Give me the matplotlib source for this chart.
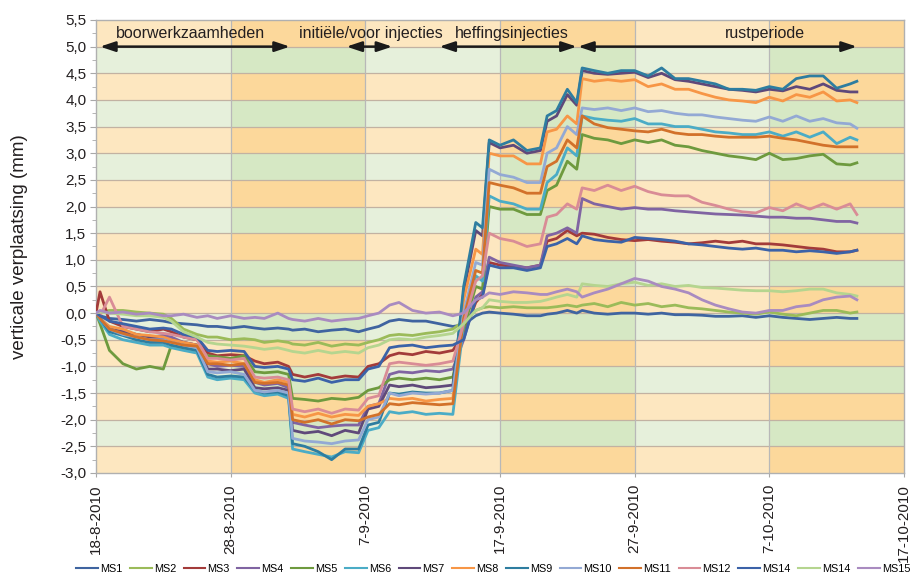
import pandas as pd
import matplotlib
matplotlib.use('Agg')
import matplotlib.pyplot as plt
import matplotlib.dates as mdates
from matplotlib.patches import Rectangle
from matplotlib.ticker import MultipleLocator

plt.rcParams['font.family'] = ['Liberation Sans Narrow', 'Liberation Sans',
                               'DejaVu Sans']

start = pd.Timestamp('2010-08-18')

# meetmomenten, dagen na 18-8-2010
days = [0, 0.3, 1, 2, 3, 4, 5, 5.6,
        6.5, 7.5, 8.3, 9, 10, 11,
        11.8, 12.5, 13.5, 14.3,
        14.6, 15.5, 16.5, 17.5, 18.5, 19.5,
        20.2, 21, 21.8, 22.5, 23.5, 24.5, 25.5, 26.5,
        27.3, 28.2, 28.7, 29.2,
        30, 31, 32, 33,
        33.5, 34.2, 35, 35.7,
        36.1, 37, 38, 39, 40, 41, 42, 43, 44, 45, 46,
        47, 48, 49, 50, 51, 52, 53, 54, 55, 56, 56.5]

ms1 = [0.0, -0.05, -0.1, -0.12, -0.15, -0.12, -0.15, -0.18,
       -0.2, -0.22, -0.25, -0.25, -0.28, -0.25,
       -0.28, -0.3, -0.28, -0.3,
       -0.32, -0.3, -0.35, -0.32, -0.3, -0.35,
       -0.3, -0.25, -0.15, -0.12, -0.15, -0.15, -0.2, -0.25,
       -0.22, -0.05, 0.0, 0.02,
       0.0, -0.02, -0.05, -0.05,
       -0.02, 0.0, 0.05, 0.0,
       0.05, 0.0, -0.02, 0.0, 0.0, -0.02, 0.0, -0.03, -0.03, -0.04, -0.06,
       -0.06, -0.05, -0.08, -0.05, -0.08, -0.1, -0.12, -0.1, -0.08, -0.1, -0.1]
ms2 = [0.0, 0.02, 0.05, 0.05, 0.02, 0.0, -0.02, -0.1,
       -0.3, -0.4, -0.45, -0.45, -0.5, -0.48,
       -0.5, -0.55, -0.52, -0.55,
       -0.58, -0.6, -0.55, -0.62, -0.58, -0.6,
       -0.55, -0.5, -0.42, -0.4, -0.42, -0.38, -0.35, -0.3,
       -0.15, 0.05, 0.1, 0.12,
       0.1, 0.12, 0.1, 0.1,
       0.1, 0.12, 0.15, 0.12,
       0.15, 0.18, 0.12, 0.2, 0.15, 0.18, 0.12, 0.15, 0.1, 0.08, 0.05,
       0.02, 0.0, -0.02, 0.02, -0.02, -0.05, 0.0, 0.05, 0.05, 0.0, 0.02]
ms3 = [0.0, 0.4, -0.15, -0.25, -0.3, -0.35, -0.3, -0.35,
       -0.45, -0.5, -0.75, -0.8, -0.78, -0.8,
       -0.9, -0.95, -0.92, -1.0,
       -1.15, -1.2, -1.15, -1.22, -1.18, -1.2,
       -1.0, -0.95, -0.8, -0.75, -0.78, -0.72, -0.75, -0.7,
       -0.4, 0.2, 0.35, 0.95,
       0.9, 0.88, 0.85, 0.9,
       1.35, 1.4, 1.55, 1.45,
       1.5, 1.48, 1.42, 1.38, 1.36, 1.38, 1.35, 1.33, 1.3, 1.32, 1.35,
       1.32, 1.35, 1.3, 1.3, 1.28, 1.25, 1.22, 1.2, 1.15, 1.15, 1.18]
ms4 = [0.0, -0.1, -0.3, -0.35, -0.4, -0.45, -0.42, -0.45,
       -0.55, -0.6, -0.95, -1.0, -0.98, -1.0,
       -1.3, -1.35, -1.32, -1.4,
       -2.05, -2.1, -2.15, -2.12, -2.1, -2.1,
       -1.75, -1.7, -1.15, -1.1, -1.12, -1.08, -1.1, -1.05,
       -0.5, 0.3, 0.4, 1.05,
       0.95, 0.9, 0.85, 0.9,
       1.45, 1.5, 1.6, 1.5,
       2.15, 2.05, 2.0, 1.95, 1.98, 1.95, 1.95, 1.92, 1.9, 1.88, 1.86,
       1.85, 1.84, 1.82, 1.8, 1.8, 1.78, 1.78, 1.75, 1.72, 1.72, 1.69]
ms5 = [0.0, -0.2, -0.7, -0.95, -1.05, -1.0, -1.05, -0.6,
       -0.65, -0.7, -0.8, -0.82, -0.85, -0.8,
       -1.1, -1.12, -1.1, -1.15,
       -1.6, -1.62, -1.65, -1.6, -1.62, -1.58,
       -1.45, -1.4, -1.25, -1.22, -1.25, -1.22, -1.25, -1.2,
       -0.3, 0.5, 0.45, 2.0,
       1.95, 1.95, 1.85, 1.85,
       2.3, 2.4, 2.85, 2.7,
       3.35, 3.28, 3.25, 3.18, 3.25, 3.2, 3.25, 3.15, 3.12, 3.05, 3.0,
       2.95, 2.92, 2.88, 3.0, 2.88, 2.9, 2.95, 2.98, 2.8, 2.78, 2.82]
ms6 = [0.0, -0.15, -0.4, -0.5, -0.55, -0.6, -0.6, -0.65,
       -0.7, -0.75, -1.2, -1.25, -1.22, -1.25,
       -1.5, -1.55, -1.52, -1.6,
       -2.55, -2.6, -2.65, -2.7, -2.6, -2.62,
       -2.2, -2.15, -1.85, -1.88, -1.85, -1.9, -1.88, -1.9,
       -0.2, 0.7, 0.6, 2.2,
       2.1, 2.05, 1.95, 1.95,
       2.45, 2.6, 3.1, 2.95,
       3.7, 3.65, 3.62, 3.6, 3.65, 3.55, 3.55, 3.5, 3.5, 3.45, 3.4,
       3.38, 3.35, 3.35, 3.4, 3.32, 3.4, 3.3, 3.4, 3.18, 3.3, 3.25]
ms7 = [0.0, -0.1, -0.3, -0.35, -0.4, -0.45, -0.48, -0.5,
       -0.55, -0.6, -1.05, -1.05, -1.08, -1.05,
       -1.4, -1.42, -1.4, -1.45,
       -2.2, -2.25, -2.22, -2.3, -2.2, -2.25,
       -1.8, -1.75, -1.35, -1.38, -1.35, -1.4, -1.38, -1.35,
       0.4, 1.55, 1.45, 3.2,
       3.1, 3.15, 3.0, 3.05,
       3.6, 3.7, 4.1, 3.9,
       4.55, 4.5, 4.48, 4.5, 4.52, 4.42, 4.5, 4.38, 4.35, 4.3, 4.25,
       4.2, 4.18, 4.15, 4.2, 4.17, 4.25, 4.2, 4.3, 4.18, 4.15, 4.15]
ms8 = [0.0, -0.1, -0.25, -0.3, -0.4, -0.42, -0.45, -0.5,
       -0.55, -0.6, -0.9, -0.92, -0.9, -0.95,
       -1.25, -1.3, -1.25, -1.3,
       -1.9, -1.95, -1.88, -1.95, -1.9, -1.92,
       -1.75, -1.7, -1.6, -1.62, -1.6, -1.65, -1.62, -1.6,
       0.25, 1.2, 1.1, 3.0,
       2.95, 2.95, 2.8, 2.8,
       3.4, 3.45, 3.7, 3.55,
       4.4, 4.35, 4.38, 4.35, 4.38, 4.25, 4.3, 4.2, 4.2, 4.12, 4.05,
       4.0, 3.98, 3.95, 4.05, 3.98, 4.1, 4.05, 4.15, 3.98, 4.0, 3.95]
ms9 = [0.0, -0.1, -0.35, -0.42, -0.5, -0.55, -0.55, -0.6,
       -0.65, -0.7, -1.15, -1.2, -1.18, -1.2,
       -1.45, -1.5, -1.48, -1.55,
       -2.45, -2.5, -2.6, -2.75, -2.55, -2.55,
       -2.1, -2.05, -1.5, -1.52, -1.48, -1.5, -1.5, -1.45,
       0.5, 1.7, 1.6, 3.25,
       3.15, 3.25, 3.05, 3.1,
       3.7, 3.8, 4.2, 3.95,
       4.6, 4.55, 4.5, 4.55, 4.55, 4.45, 4.6, 4.4, 4.4, 4.35, 4.3,
       4.2, 4.2, 4.18, 4.25, 4.2, 4.4, 4.45, 4.45, 4.22, 4.3, 4.35]
ms10 = [0.0, -0.1, -0.3, -0.4, -0.45, -0.5, -0.5, -0.55,
        -0.6, -0.65, -1.1, -1.12, -1.1, -1.15,
        -1.45, -1.48, -1.45, -1.5,
        -2.35, -2.4, -2.42, -2.45, -2.4, -2.38,
        -2.0, -1.95, -1.5, -1.55, -1.5, -1.52, -1.5, -1.45,
        0.0, 0.95, 0.9, 2.7,
        2.6, 2.55, 2.45, 2.45,
        3.0, 3.1, 3.5, 3.35,
        3.85, 3.82, 3.85, 3.8, 3.85, 3.78, 3.8, 3.75, 3.72, 3.72, 3.68,
        3.65, 3.62, 3.6, 3.68, 3.6, 3.7, 3.6, 3.65, 3.57, 3.55, 3.47]
ms11 = [0.0, -0.1, -0.3, -0.38, -0.45, -0.5, -0.52, -0.55,
        -0.6, -0.62, -0.95, -0.95, -0.98, -0.95,
        -1.3, -1.32, -1.3, -1.35,
        -2.0, -2.05, -2.0, -2.08, -2.0, -2.02,
        -1.95, -1.9, -1.7, -1.72, -1.68, -1.7, -1.72, -1.7,
        -0.1, 0.8, 0.75, 2.45,
        2.4, 2.35, 2.25, 2.25,
        2.75, 2.85, 3.25, 3.1,
        3.7, 3.55, 3.48, 3.45, 3.42, 3.4, 3.45, 3.38, 3.35, 3.35, 3.32,
        3.3, 3.3, 3.3, 3.32, 3.28, 3.25, 3.2, 3.15, 3.12, 3.12, 3.12]
ms12 = [0.0, -0.05, 0.3, -0.25, -0.3, -0.35, -0.38, -0.4,
        -0.45, -0.5, -0.85, -0.85, -0.88, -0.85,
        -1.2, -1.22, -1.2, -1.25,
        -1.8, -1.85, -1.8, -1.88, -1.8, -1.82,
        -1.6, -1.55, -0.95, -0.92, -0.95, -0.98, -0.95, -0.9,
        -0.2, 0.6, 0.7, 1.5,
        1.4, 1.35, 1.25, 1.3,
        1.8, 1.85, 2.05, 1.95,
        2.35, 2.3, 2.4, 2.3, 2.38, 2.28, 2.22, 2.2, 2.2, 2.08, 2.02,
        1.95, 1.9, 1.88, 1.98, 1.92, 2.05, 1.95, 2.05, 1.95, 2.05, 1.85]
ms14a = [0.0, -0.05, -0.15, -0.2, -0.25, -0.3, -0.28, -0.3,
         -0.4, -0.45, -0.7, -0.72, -0.7, -0.72,
         -1.0, -1.02, -1.0, -1.05,
         -1.25, -1.28, -1.22, -1.3, -1.25, -1.25,
         -1.05, -1.0, -0.65, -0.62, -0.6, -0.65, -0.62, -0.6,
         -0.5, 0.25, 0.3, 0.9,
         0.85, 0.85, 0.8, 0.85,
         1.25, 1.3, 1.4, 1.3,
         1.45, 1.38, 1.35, 1.33, 1.42, 1.4, 1.38, 1.35, 1.3, 1.28, 1.25,
         1.22, 1.2, 1.22, 1.18, 1.18, 1.15, 1.17, 1.15, 1.12, 1.15, 1.18]
ms14b = [0.0, 0.02, 0.0, -0.02, -0.05, -0.05, -0.08, -0.15,
         -0.35, -0.45, -0.55, -0.58, -0.6, -0.62,
         -0.65, -0.68, -0.65, -0.7,
         -0.72, -0.75, -0.7, -0.75, -0.72, -0.75,
         -0.65, -0.6, -0.5, -0.48, -0.5, -0.45, -0.42, -0.38,
         -0.2, 0.05, 0.1, 0.25,
         0.22, 0.2, 0.2, 0.22,
         0.25, 0.3, 0.35, 0.3,
         0.55, 0.52, 0.5, 0.55, 0.58, 0.52, 0.55, 0.5, 0.52, 0.48, 0.47,
         0.45, 0.43, 0.42, 0.42, 0.4, 0.42, 0.45, 0.45, 0.38, 0.35, 0.32]
ms15 = [0.0, 0.05, 0.0, 0.02, -0.02, 0.0, -0.05, -0.05,
        -0.02, -0.08, -0.05, -0.1, -0.05, -0.1,
        -0.08, -0.1, 0.0, -0.1,
        -0.12, -0.15, -0.1, -0.15, -0.12, -0.1,
        -0.05, 0.0, 0.15, 0.2, 0.05, 0.0, 0.02, -0.05,
        0.0, 0.25, 0.3, 0.38,
        0.35, 0.4, 0.38, 0.35,
        0.35, 0.4, 0.45, 0.4,
        0.3, 0.38, 0.45, 0.55, 0.65, 0.6, 0.5, 0.45, 0.38, 0.25, 0.15,
        0.08, 0.02, 0.0, 0.05, 0.05, 0.12, 0.15, 0.25, 0.3, 0.32, 0.25]

labels = ['MS1', 'MS2', 'MS3', 'MS4', 'MS5', 'MS6', 'MS7', 'MS8', 'MS9',
          'MS10', 'MS11', 'MS12', 'MS14', 'MS14', 'MS15']
values = [ms1, ms2, ms3, ms4, ms5, ms6, ms7, ms8, ms9,
          ms10, ms11, ms12, ms14a, ms14b, ms15]
colors = ['#3F64A0', '#9BBB59', '#A33B3A', '#8064A2', '#6E9A3E', '#4BACC6',
          '#5F497A', '#F79646', '#2E7DA0', '#93A9D4', '#D2712A', '#D98C96',
          '#3B62A8', '#B5D58F', '#A98BC0']

phases = ['boorwerkzaamheden', 'initiële/voor injecties',
          'heffingsinjecties', 'rustperiode']
phase_from = [0.3, 18.6, 25.5, 35.8]
phase_to = [14.4, 22.0, 35.7, 56.5]
phase_label_at = [7.0, 20.4, 30.9, 49.7]

dates = (start + pd.to_timedelta(days, unit='D')).to_pydatetime()

fig = plt.figure(figsize=(9.22, 5.81), dpi=100)
ax = fig.add_axes([0.1041, 0.1859, 0.8764, 0.7797])

x0 = mdates.date2num(start)
ax.set_xlim(x0, x0 + 60)
ax.set_ylim(-3.0, 5.5)

# achtergrond: banden van 0,5 mm en blokken van 10 dagen
for i in range(6):
    for j in range(17):
        orange = (j % 2 == 0)
        light = (i % 2 == 0)
        if orange:
            c = '#FDE7C0' if light else '#FCD89B'
        else:
            c = '#E6F0DB' if light else '#D6E8C4'
        ax.add_patch(Rectangle((x0 + 10 * i, -3.0 + 0.5 * j), 10, 0.5,
                               facecolor=c, edgecolor='none', zorder=0))

for k in range(1, 17):
    ax.axhline(-3.0 + 0.5 * k, color='#C2B2A2', lw=0.9, zorder=1)
for i in range(1, 6):
    ax.axvline(x0 + 10 * i, color='#B8B8B8', lw=0.9, zorder=1)

for lab, vals, col in zip(labels, values, colors):
    ax.plot(dates, vals, color=col, lw=2.0, label=lab, zorder=3,
            solid_joinstyle='round')

for name, a, b, t in zip(phases, phase_from, phase_to, phase_label_at):
    ax.annotate('', xy=(x0 + a, 5.0), xytext=(x0 + b, 5.0),
                arrowprops=dict(arrowstyle='<|-|>,head_length=0.9,head_width=0.3',
                                color='#1A1A1A', lw=1.8, shrinkA=0, shrinkB=0,
                                mutation_scale=10), zorder=5)
    ax.text(x0 + t, 5.25, name, ha='center', va='center', fontsize=11.5,
            color='#231F20', zorder=5)

ticks = [x0 + 10 * i for i in range(7)]
ax.set_xticks(ticks)
ax.set_xticklabels([f'{d.day}-{d.month}-{d.year}'
                    for d in mdates.num2date(ticks)], rotation=90)
yt = [-3.0 + 0.5 * k for k in range(18)]
ax.set_yticks(yt)
ax.set_yticklabels([f'{v:.1f}'.replace('.', ',') for v in yt])
ax.yaxis.set_minor_locator(MultipleLocator(0.25))

ax.tick_params(axis='y', which='both', direction='out', color='#A8A8A8',
               labelsize=11, pad=3, labelcolor='#231F20')
ax.tick_params(axis='y', which='major', length=4)
ax.tick_params(axis='y', which='minor', length=3)
ax.tick_params(axis='x', length=3, color='#A8A8A8', labelsize=11, pad=5,
               labelcolor='#231F20')

for s in ax.spines.values():
    s.set_color('#B0B0B0')
    s.set_linewidth(1.0)

ax.set_ylabel('verticale verplaatsing (mm)', fontsize=13.5, color='#231F20')
ax.yaxis.set_label_coords(-0.084, 0.5)

handles, labs = ax.get_legend_handles_labels()
leg = fig.legend(handles, labs, loc='center', bbox_to_anchor=(0.535, 0.021),
                 ncol=15, frameon=False, fontsize=7.8, handlelength=2.0,
                 handletextpad=0.2, columnspacing=0.7)
for h in leg.get_lines():
    h.set_linewidth(1.5)

fig.savefig('out.png', dpi=100, facecolor='white')
